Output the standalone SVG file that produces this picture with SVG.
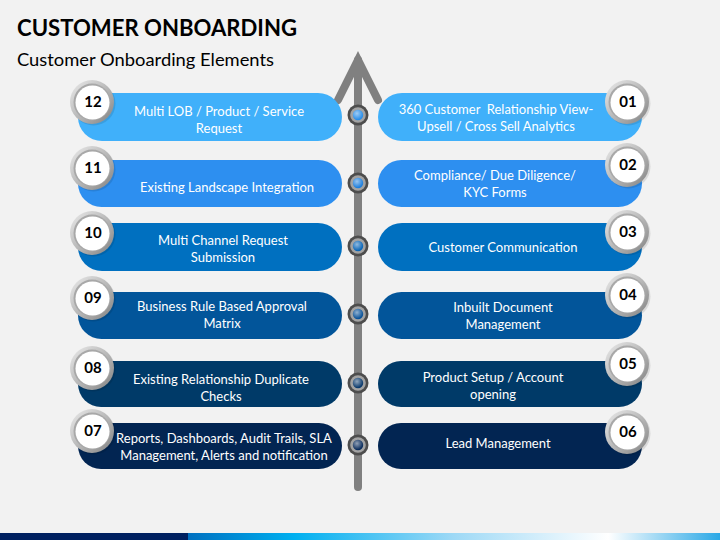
<svg xmlns="http://www.w3.org/2000/svg" width="720" height="540" viewBox="0 0 720 540">
<style>
  .title{font-family:Lato,"Open Sans","Liberation Sans",sans-serif;font-weight:700;font-size:23px;fill:#000}
  .sub{font-family:Lato,"Open Sans","Liberation Sans",sans-serif;font-size:18px;fill:#000}
  .lbl{font-family:Lato,"Open Sans","Liberation Sans",sans-serif;font-size:13px;fill:#fff;text-anchor:middle}
  .num{font-family:Lato,"Open Sans","Liberation Sans",sans-serif;font-weight:700;font-size:15px;fill:#000;text-anchor:middle}
  .axis{stroke:#808080;stroke-width:8;fill:none;stroke-linecap:round;stroke-linejoin:miter}
</style>
<defs>
  <linearGradient id="ring" x1="0" y1="0" x2="1" y2="1">
    <stop offset="0" stop-color="#ececec"/>
    <stop offset="0.55" stop-color="#b4b4b4"/>
    <stop offset="1" stop-color="#808080"/>
  </linearGradient>
  <radialGradient id="hl" cx="0.4" cy="0.35" r="0.6">
    <stop offset="0" stop-color="#ffffff" stop-opacity="0.55"/>
    <stop offset="1" stop-color="#ffffff" stop-opacity="0"/>
  </radialGradient>
  <linearGradient id="strip" x1="0" y1="0" x2="1" y2="0">
    <stop offset="0" stop-color="#0070c0"/>
    <stop offset="0.2" stop-color="#00b0f0"/>
    <stop offset="0.5" stop-color="#9ed9f6"/>
    <stop offset="0.79" stop-color="#ffffff"/>
    <stop offset="1" stop-color="#2aa8e6"/>
  </linearGradient>
  <g id="badge">
    <circle cx="1.5" cy="1.5" r="22" fill="#000" opacity="0.1"/>
    <circle r="22" fill="url(#ring)"/>
    <circle r="18.5" fill="#a8a8a8"/>
    <circle cx="0.5" cy="0.5" r="17" fill="#fff"/>
  </g>
  <g id="dot">
    <circle r="10.5" fill="#4d4d4d"/>
    <circle r="7.8" fill="#a3a3a3"/>
  </g>
</defs>
<rect width="720" height="540" fill="#f2f2f2"/>
<text class="title" x="17" y="36" textLength="280" lengthAdjust="spacingAndGlyphs">CUSTOMER ONBOARDING</text>
<text class="sub" x="17" y="66" textLength="257" lengthAdjust="spacingAndGlyphs">Customer Onboarding Elements</text>

<g id="connectors">
  <line class="axis" x1="358" y1="60" x2="358" y2="487"/>
  <polyline class="axis" points="338,100 358,60 378,100"/>
  <use href="#dot" x="358" y="115"/>
  <circle cx="358" cy="115" r="5.2" fill="#2a8ee8"/><circle cx="358" cy="115" r="5.2" fill="url(#hl)"/>
  <use href="#dot" x="358" y="183"/>
  <circle cx="358" cy="183" r="5.2" fill="#1f7fdc"/><circle cx="358" cy="183" r="5.2" fill="url(#hl)"/>
  <use href="#dot" x="358" y="246"/>
  <circle cx="358" cy="246" r="5.2" fill="#0a66b8"/><circle cx="358" cy="246" r="5.2" fill="url(#hl)"/>
  <use href="#dot" x="358" y="314"/>
  <circle cx="358" cy="314" r="5.2" fill="#0a5298"/><circle cx="358" cy="314" r="5.2" fill="url(#hl)"/>
  <use href="#dot" x="358" y="383"/>
  <circle cx="358" cy="383" r="5.2" fill="#0b3a6c"/><circle cx="358" cy="383" r="5.2" fill="url(#hl)"/>
  <use href="#dot" x="358" y="445"/>
  <circle cx="358" cy="445" r="5.2" fill="#0a2c5c"/><circle cx="358" cy="445" r="5.2" fill="url(#hl)"/>
</g>

<g id="node-12">
  <rect x="78" y="93" width="264" height="48" rx="24" fill="#40b0fa"/>
  <text class="lbl" x="219" y="116">Multi LOB / Product / Service</text>
  <text class="lbl" x="219" y="133">Request</text>
  <use href="#badge" x="92" y="102"/>
  <text class="num" x="93" y="107">12</text>
</g>
<g id="node-11">
  <rect x="78" y="160" width="264" height="47" rx="23.5" fill="#2d8ff0"/>
  <text class="lbl" x="227" y="192">Existing Landscape Integration</text>
  <use href="#badge" x="92" y="168"/>
  <text class="num" x="93" y="173">11</text>
</g>
<g id="node-10">
  <rect x="78" y="223" width="264" height="48" rx="24" fill="#0070c0"/>
  <text class="lbl" x="223" y="245">Multi Channel Request</text>
  <text class="lbl" x="223" y="262">Submission</text>
  <use href="#badge" x="92" y="233"/>
  <text class="num" x="93" y="238">10</text>
</g>
<g id="node-09">
  <rect x="78" y="292" width="264" height="47" rx="23.5" fill="#02559a"/>
  <text class="lbl" x="222" y="311">Business Rule Based Approval</text>
  <text class="lbl" x="222" y="328">Matrix</text>
  <use href="#badge" x="92" y="298"/>
  <text class="num" x="93" y="303">09</text>
</g>
<g id="node-08">
  <rect x="78" y="361" width="264" height="46" rx="23" fill="#003a68"/>
  <text class="lbl" x="221" y="384">Existing Relationship Duplicate</text>
  <text class="lbl" x="221" y="401">Checks</text>
  <use href="#badge" x="92" y="368"/>
  <text class="num" x="93" y="373">08</text>
</g>
<g id="node-07">
  <rect x="78" y="423" width="264" height="46" rx="23" fill="#022552"/>
  <text class="lbl" x="224" y="443">Reports, Dashboards, Audit Trails, SLA</text>
  <text class="lbl" x="224" y="460">Management, Alerts and notification</text>
  <use href="#badge" x="92" y="431"/>
  <text class="num" x="93" y="436">07</text>
</g>

<g id="node-01">
  <rect x="378" y="93" width="264" height="48" rx="24" fill="#40b0fa"/>
  <text class="lbl" x="496" y="114" xml:space="preserve">360 Customer  Relationship View-</text>
  <text class="lbl" x="496" y="131">Upsell / Cross Sell Analytics</text>
  <use href="#badge" x="627" y="102"/>
  <text class="num" x="628" y="107">01</text>
</g>
<g id="node-02">
  <rect x="378" y="160" width="264" height="47" rx="23.5" fill="#2d8ff0"/>
  <text class="lbl" x="495" y="180">Compliance/ Due Diligence/</text>
  <text class="lbl" x="495" y="197">KYC Forms</text>
  <use href="#badge" x="627" y="165"/>
  <text class="num" x="628" y="170">02</text>
</g>
<g id="node-03">
  <rect x="378" y="223" width="264" height="48" rx="24" fill="#0070c0"/>
  <text class="lbl" x="503" y="252">Customer Communication</text>
  <use href="#badge" x="627" y="232"/>
  <text class="num" x="628" y="237">03</text>
</g>
<g id="node-04">
  <rect x="378" y="292" width="264" height="47" rx="23.5" fill="#02559a"/>
  <text class="lbl" x="503" y="312">Inbuilt Document</text>
  <text class="lbl" x="503" y="329">Management</text>
  <use href="#badge" x="627" y="295"/>
  <text class="num" x="628" y="300">04</text>
</g>
<g id="node-05">
  <rect x="378" y="361" width="264" height="46" rx="23" fill="#003a68"/>
  <text class="lbl" x="493" y="382">Product Setup / Account</text>
  <text class="lbl" x="493" y="399">opening</text>
  <use href="#badge" x="627" y="364"/>
  <text class="num" x="628" y="369">05</text>
</g>
<g id="node-06">
  <rect x="378" y="423" width="264" height="46" rx="23" fill="#022552"/>
  <text class="lbl" x="498" y="448">Lead Management</text>
  <use href="#badge" x="627" y="432"/>
  <text class="num" x="628" y="437">06</text>
</g>

<rect x="0" y="533" width="188" height="7" fill="#002060"/>
<rect x="188" y="533" width="532" height="7" fill="url(#strip)"/>
</svg>
